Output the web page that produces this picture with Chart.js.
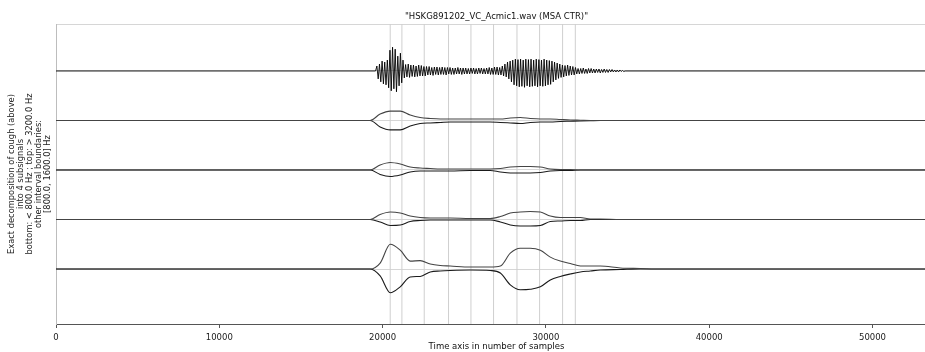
<!DOCTYPE html>
<html>
<head>
<meta charset="utf-8">
<script src="https://cdn.jsdelivr.net/npm/chart.js@4"></script>
<style>
  html, body { margin: 0; padding: 0; background: #fff; overflow: hidden; }
  canvas { display: block; }
</style>
</head>
<body>
<canvas id="chart" width="937" height="352"></canvas>
<script>
const titleText = '"HSKG891202_VC_Acmic1.wav (MSA CTR)"';
const xTitle = "Time axis in number of samples";
const yTitle = [
  "Exact decomposition of cough (above)",
  "into 4 subsignals",
  "bottom: < 800.0 Hz ; top: > 3200.0 Hz",
  "other interval boundaries:",
  "[800.0, 1600.0] Hz"
];
const xTicks = [0, 10000, 20000, 30000, 40000, 50000];
const xMax = 53950;
const yMin = -1.111;
const yMax = 4.949;

// segment boundaries (samples)
const boundaries = [20466, 21182, 22549, 24038, 25410, 26795, 28229, 29614, 31023, 31801];

// envelope sample positions, shared by the 4 subsignals
const envX = [0, 19240, 19850, 20470, 21080, 21690, 22300, 22920, 23530, 24140, 25370, 26590, 27210,
  27820, 28430, 29040, 29660, 30270, 30880, 31500, 32110, 32720, 33330, 34560, 35780, 37010, 53950];

// bottom: < 800 Hz
const band1Upper = [0, 0, 0.12, 0.50, 0.38, 0.16, 0.17, 0.10, 0.07, 0.06, 0.04, 0.04, 0.06,
  0.32, 0.42, 0.42, 0.38, 0.24, 0.16, 0.11, 0.06, 0.06, 0.06, 0.02, 0.01, 0, 0];
const band1Lower = [0, 0, -0.14, -0.48, -0.36, -0.16, -0.15, -0.06, -0.04, -0.03, -0.02, -0.03, -0.08,
  -0.32, -0.42, -0.41, -0.36, -0.22, -0.15, -0.10, -0.06, -0.04, -0.02, -0.01, 0, 0, 0];
// 800 - 1600 Hz
const band2Upper = [0, 0, 0.10, 0.15, 0.13, 0.07, 0.04, 0.03, 0.03, 0.03, 0.02, 0.02, 0.06,
  0.13, 0.15, 0.16, 0.15, 0.07, 0.04, 0.04, 0.04, 0.01, 0.01, 0, 0, 0, 0];
const band2Lower = [0, 0, -0.05, -0.12, -0.11, -0.04, -0.02, -0.01, -0.01, -0.01, -0.01, -0.01, -0.05,
  -0.11, -0.13, -0.13, -0.12, -0.04, -0.03, -0.02, -0.02, 0, 0, 0, 0, 0, 0];
// 1600 - 3200 Hz
const band3Upper = [0, 0, 0.10, 0.15, 0.12, 0.06, 0.04, 0.03, 0.02, 0.02, 0.02, 0.02, 0.03,
  0.06, 0.07, 0.07, 0.06, 0.02, 0.01, 0.01, 0, 0, 0, 0, 0, 0, 0];
const band3Lower = [0, 0, -0.09, -0.13, -0.10, -0.04, -0.02, -0.02, -0.02, -0.02, -0.01, -0.01, -0.04,
  -0.06, -0.06, -0.06, -0.05, -0.02, -0.01, -0.01, 0, 0, 0, 0, 0, 0, 0];
// top: > 3200 Hz
const band4Upper = [0, 0, 0.13, 0.19, 0.19, 0.11, 0.06, 0.04, 0.03, 0.03, 0.03, 0.03, 0.03,
  0.05, 0.06, 0.04, 0.03, 0.03, 0.02, 0.01, 0.005, 0, 0, 0, 0, 0, 0];
const band4Lower = [0, 0, -0.13, -0.19, -0.19, -0.11, -0.06, -0.05, -0.04, -0.03, -0.03, -0.03, -0.04,
  -0.05, -0.06, -0.04, -0.03, -0.03, -0.02, -0.015, -0.01, -0.005, 0, 0, 0, 0, 0];

// the cough itself, one value every 80 samples from 19650
const waveStart = 19650;
const waveStep = 80;
const wave = [
  0.10, -0.16, 0.14,
  -0.22, 0.20, -0.26, 0.18, -0.28, 0.22,
  -0.34, 0.42, -0.40, 0.48, -0.36, 0.44, -0.42, 0.30,
  -0.30, 0.36, -0.24, 0.22,
  -0.14, 0.13, -0.12, 0.14, -0.13, 0.12, -0.11, 0.12, -0.12, 0.10, -0.11, 0.12, -0.10, 0.11, -0.10, 0.09, -0.10, 0.09,
  -0.08, 0.09, -0.08, 0.07, -0.09, 0.08, -0.07, 0.08, -0.08, 0.07,
  -0.07, 0.08, -0.07, 0.07, -0.08, 0.07, -0.06, 0.07, -0.07, 0.06,
  -0.07, 0.06, -0.06, 0.07, -0.06, 0.06, -0.07, 0.06, -0.06, 0.06,
  -0.06, 0.05, -0.06, 0.06, -0.05, 0.06, -0.06, 0.05, -0.06, 0.06,
  -0.05, 0.06, -0.06, 0.05, -0.06, 0.06,
  -0.06, 0.07, -0.07, 0.06, -0.07, 0.08, -0.07, 0.08, -0.08, 0.07, -0.08,
  0.10, -0.10, 0.14, -0.12, 0.18, -0.16, 0.20, -0.22,
  0.22, -0.28, 0.24, -0.30, 0.23, -0.32, 0.24, -0.31, 0.22, -0.33, 0.24, -0.30, 0.23, -0.32, 0.24, -0.31,
  0.22, -0.30, 0.24, -0.32, 0.23, -0.30, 0.22, -0.31, 0.24, -0.30, 0.22, -0.28, 0.21, -0.27, 0.20,
  -0.22, 0.18, -0.18, 0.16, -0.15, 0.14, -0.13, 0.12,
  -0.12, 0.11, -0.10, 0.12, -0.09, 0.10, -0.08, 0.09, -0.08, 0.07,
  -0.06, 0.05, -0.06, 0.05, -0.05, 0.06, -0.05, 0.04, -0.05, 0.05, -0.04, 0.05, -0.04, 0.04,
  -0.04, 0.04, -0.03, 0.04, -0.04, 0.03, -0.03, 0.04, -0.03, 0.03, -0.03, 0.03,
  -0.02, 0.03, -0.02, 0.02, -0.02, 0.02, -0.02, 0.02, -0.01, 0.01, -0.01
];

const FONT = "'DejaVu Sans', sans-serif";

function lineSet(points, color, width, order, smooth) {
  const ds = {
    data: points,
    borderColor: color,
    borderWidth: width,
    pointRadius: 0,
    fill: false,
    tension: 0,
    order: order
  };
  if (smooth) ds.cubicInterpolationMode = "monotone";
  return ds;
}

function envelope(values, base) {
  return envX.map((x, i) => ({ x: x, y: base + values[i] }));
}

const bands = [
  [band1Upper, band1Lower],
  [band2Upper, band2Lower],
  [band3Upper, band3Lower],
  [band4Upper, band4Lower]
];

const datasets = [];

// waveform on top track
const waveBase = 4;
const wavePts = [{ x: 0, y: waveBase }, { x: waveStart - waveStep, y: waveBase }];
wave.forEach((v, i) => wavePts.push({ x: waveStart + i * waveStep, y: waveBase + v }));
wavePts.push({ x: waveStart + wave.length * waveStep, y: waveBase });
wavePts.push({ x: xMax, y: waveBase });
datasets.push(lineSet(wavePts, "#000", 0.9, 1, false));

bands.forEach((b, k) => {
  datasets.push(lineSet(envelope(b[0], k), "#444", 1.1, 2, true));
  datasets.push(lineSet(envelope(b[1], k), "#1a1a1a", 1.1, 2, true));
});

boundaries.forEach((bx) => {
  datasets.push(lineSet([{ x: bx, y: yMin }, { x: bx, y: yMax }], "#cfcfcf", 1, 10, false));
});

new Chart(document.getElementById("chart"), {
  type: "line",
  data: { datasets: datasets },
  options: {
    responsive: false,
    animation: false,
    devicePixelRatio: 1,
    layout: { padding: 0 },
    plugins: {
      legend: { display: false },
      tooltip: { enabled: false },
      title: {
        display: true,
        fullSize: false,
        text: titleText,
        color: "#111",
        font: { family: FONT, size: 8.5, weight: "normal", lineHeight: 1.2 },
        padding: { top: 11.9, bottom: 1.9 }
      }
    },
    scales: {
      x: {
        type: "linear",
        min: 0,
        max: xMax,
        afterBuildTicks: (scale) => { scale.ticks = xTicks.map((v) => ({ value: v })); },
        afterFit: (scale) => { scale.height = 28; },
        ticks: {
          color: "#222",
          font: { family: FONT, size: 8.5 },
          padding: 5,
          maxRotation: 0,
          autoSkip: false,
          callback: (v) => String(v)
        },
        grid: { drawOnChartArea: false, tickLength: 4, color: "#555" },
        border: { color: "#555", width: 1 },
        title: {
          display: true,
          text: xTitle,
          color: "#111",
          font: { family: FONT, size: 8.5, lineHeight: 1.2 },
          padding: { top: 0, bottom: 0.2 }
        }
      },
      y: {
        type: "linear",
        min: yMin,
        max: yMax,
        afterBuildTicks: (scale) => { scale.ticks = [0, 1, 2, 3, 4, yMax].map((v) => ({ value: v })); },
        afterFit: (scale) => { scale.width = 56; },
        ticks: { display: false },
        grid: { color: "#d6d6d6", drawTicks: false, lineWidth: 1 },
        border: { color: "#bdbdbd", width: 1 },
        title: {
          display: true,
          text: yTitle,
          color: "#222",
          font: { family: FONT, size: 8.3, lineHeight: 1.085 },
          padding: { top: 7.5, bottom: 0 }
        }
      }
    }
  }
});
</script>
</body>
</html>
